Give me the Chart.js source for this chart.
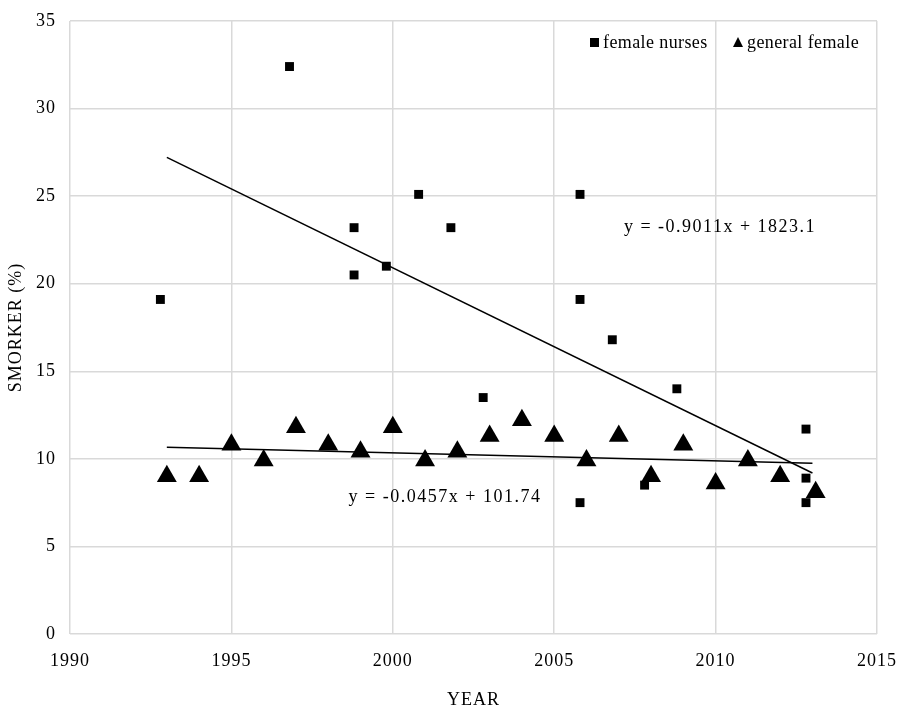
<!DOCTYPE html>
<html lang="en">
<head>
  <meta charset="UTF-8">
  <title>Smokers among female nurses</title>
  <script src="https://cdn.jsdelivr.net/npm/chart.js"></script>
  <style>
    html, body { margin: 0; padding: 0; background: #fff; }
    #wrap { width: 898px; height: 708px; }
  </style>
</head>
<body>
  <div id="wrap"><canvas id="chart" width="898" height="708"></canvas></div>

  <script>
    const nurseYears = [1992.8, 1996.8, 1998.8, 1998.8, 1999.8, 2000.8, 2001.8, 2002.8,
      2005.8, 2005.8, 2005.8, 2006.8, 2007.8, 2008.8, 2012.8, 2012.8, 2012.8];
    const nurseValues = [19.1, 32.4, 23.2, 20.5, 21.0, 25.1, 23.2, 13.5,
      25.1, 19.1, 7.5, 16.8, 8.5, 14.0, 11.7, 8.9, 7.5];

    const generalYears = [1993, 1994, 1995, 1996, 1997, 1998, 1999, 2000, 2001, 2002, 2003,
      2004, 2005, 2006, 2007, 2008, 2009, 2010, 2011, 2012, 2013.1];
    const generalValues = [9.0, 9.0, 10.8, 9.9, 11.8, 10.8, 10.4, 11.8, 9.9, 10.4, 11.3,
      12.2, 11.3, 9.9, 11.3, 9.0, 10.8, 8.6, 9.9, 9.0, 8.1];

    // trendline end points
    const trendYears = [1993, 2013];
    const nurseTrend = [27.21, 9.19];
    const generalTrend = [10.66, 9.75];

    const xTicks = [1990, 1995, 2000, 2005, 2010, 2015];
    const FONT = '"Liberation Serif", "Times New Roman", serif';

    const pts = (xs, ys) => xs.map((x, i) => ({ x: x, y: ys[i] }));

    // the original text is a little spread out
    const spacing = {
      id: 'spacing',
      beforeLayout(chart) { chart.ctx.letterSpacing = '1px'; },
      beforeDraw(chart) { chart.ctx.letterSpacing = '1px'; }
    };

    const overlay = {
      id: 'overlay',
      afterDraw(chart) {
        const ctx = chart.ctx;
        ctx.save();
        ctx.fillStyle = '#000';
        ctx.font = '18px ' + FONT;
        ctx.textBaseline = 'middle';
        ctx.textAlign = 'center';
        ctx.letterSpacing = '1.5px';
        ctx.fillText('y = -0.9011x + 1823.1', 720, 227);
        ctx.fillText('y = -0.0457x + 101.74', 445, 497);

        // legend
        ctx.letterSpacing = '0.4px';
        ctx.textAlign = 'left';
        ctx.fillRect(590, 38, 9, 9);
        ctx.fillText('female nurses', 603, 43);
        ctx.beginPath();
        ctx.moveTo(738, 37);
        ctx.lineTo(743, 47);
        ctx.lineTo(733, 47);
        ctx.closePath();
        ctx.fill();
        ctx.fillText('general female', 747, 43);
        ctx.restore();
      }
    };

    new Chart(document.getElementById('chart').getContext('2d'), {
      type: 'scatter',
      data: {
        datasets: [
          {
            label: 'female nurses',
            data: pts(nurseYears, nurseValues),
            pointStyle: 'rect',
            pointRadius: 6.3,
            backgroundColor: '#000',
            borderColor: '#000',
            borderWidth: 0
          },
          {
            label: 'general female',
            data: pts(generalYears, generalValues),
            pointStyle: 'triangle',
            pointRadius: 11.5,
            backgroundColor: '#000',
            borderColor: '#000',
            borderWidth: 0
          },
          {
            label: 'nurse trend',
            data: pts(trendYears, nurseTrend),
            showLine: true,
            pointRadius: 0,
            borderColor: '#000',
            borderWidth: 1.5
          },
          {
            label: 'general trend',
            data: pts(trendYears, generalTrend),
            showLine: true,
            pointRadius: 0,
            borderColor: '#000',
            borderWidth: 1.5
          }
        ]
      },
      options: {
        responsive: false,
        animation: false,
        events: [],
        layout: { padding: { top: 21, right: 21, left: 0, bottom: 0 } },
        plugins: { legend: { display: false }, tooltip: { enabled: false } },
        scales: {
          x: {
            type: 'linear',
            min: 1990,
            max: 2015,
            afterBuildTicks(axis) { axis.ticks = xTicks.map(v => ({ value: v })); },
            afterFit(axis) {
              axis.height = 74;
              axis.paddingLeft = 0;
              axis.paddingRight = 0;
            },
            grid: { color: '#d9d9d9', lineWidth: 1.5, drawTicks: false },
            border: { display: false },
            ticks: {
              color: '#000',
              padding: 16,
              font: { family: FONT, size: 18 },
              callback: v => String(v)
            },
            title: {
              display: true,
              text: 'YEAR',
              color: '#000',
              font: { family: FONT, size: 18 },
              padding: { top: 17, bottom: -3 }
            }
          },
          y: {
            min: 0,
            max: 35,
            afterFit(axis) {
              axis.width = 70;
              axis.paddingTop = 0;
              axis.paddingBottom = 0;
            },
            grid: { color: '#d9d9d9', lineWidth: 1.5, drawTicks: false },
            border: { display: false },
            ticks: {
              color: '#000',
              stepSize: 5,
              padding: 14,
              font: { family: FONT, size: 18 }
            },
            title: {
              display: true,
              text: 'SMORKER (%)',
              color: '#000',
              font: { family: FONT, size: 18 },
              padding: { top: 5, bottom: 0 }
            }
          }
        }
      },
      plugins: [spacing, overlay]
    });
  </script>
</body>
</html>
